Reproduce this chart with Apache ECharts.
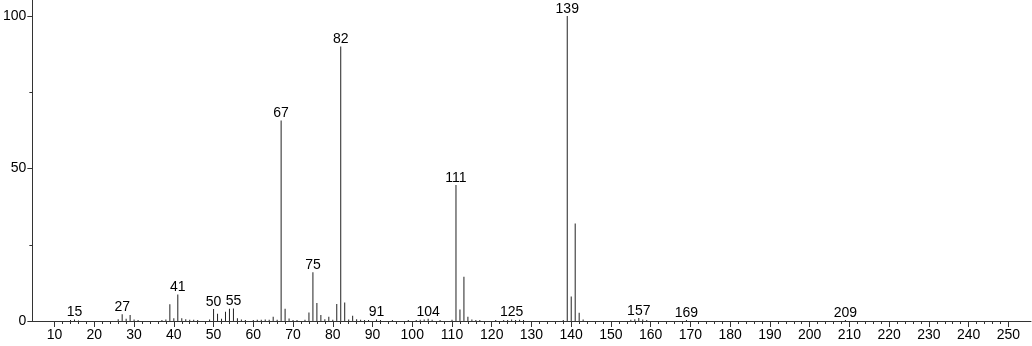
<!DOCTYPE html>
<html>
<head>
<meta charset="utf-8">
<script src="https://cdn.jsdelivr.net/npm/echarts@6/dist/echarts.min.js"></script>
<style>
html,body{margin:0;padding:0;background:#fff;}
#chart{width:1032px;height:346px;}
</style>
</head>
<body>
<div id="chart"></div>
<script>
// m/z values and relative intensities
const mz = [14,15,16,26,27,28,29,30,31,37,38,39,40,41,42,43,44,45,46,49,50,51,52,53,54,55,56,57,58,60,61,62,63,64,65,66,67,68,69,70,71,73,74,75,76,77,78,79,80,81,82,83,84,85,86,87,88,89,91,92,95,99,101,102,103,104,105,107,110,111,112,113,114,115,116,117,121,123,124,125,126,127,128,138,139,140,141,142,143,155,156,157,158,159,169,209];
const intensity = [0.3,0.5,0.2,0.6,2.2,0.7,2.0,0.5,0.3,0.3,0.5,5.5,0.9,8.7,0.9,0.6,0.4,0.4,0.3,0.5,3.9,2.4,0.7,3.0,4.0,4.1,0.9,0.5,0.3,0.3,0.4,0.4,0.5,0.4,1.4,0.4,65.7,4.0,0.8,0.3,0.3,0.4,2.8,16.0,5.9,2.0,0.6,1.4,0.4,5.6,90.0,6.1,0.5,1.7,0.6,0.4,0.3,0.3,0.5,0.3,0.3,0.3,0.3,0.4,0.5,0.7,0.4,0.3,0.4,44.6,3.8,14.5,1.4,0.5,0.3,0.3,0.3,0.3,0.3,0.5,0.3,0.4,0.3,0.3,100,8.0,32.0,2.7,0.5,0.4,0.6,1.0,0.5,0.3,0.3,0.3];
const labeledPeaks = [15,27,41,50,55,67,75,82,91,104,111,125,139,157,169,209];
const xMajorTicks = [10,20,30,40,50,60,70,80,90,100,110,120,130,140,150,160,170,180,190,200,210,220,230,240,250];
const xMinorTicks = [];
for (let v = 12; v < 250; v += 2) if (v % 10 !== 0) xMinorTicks.push(v);
const yMajorTicks = [0,50,100];
const yMinorTicks = [25,75];

const FONT = 'Liberation Sans, Arial, sans-serif';
const AXIS_COLOR = '#333';

const data = mz.map((m, i) => {
  const item = { value: [m, intensity[i]] };
  if (labeledPeaks.indexOf(m) >= 0) {
    item.label = { show: true };
  }
  return item;
});

const chart = echarts.init(document.getElementById('chart'), null, { renderer: 'canvas' });
chart.setOption({
  animation: false,
  backgroundColor: '#fff',
  grid: { left: 30, right: 1, top: 0, bottom: 25, containLabel: false },
  xAxis: [
    {
      type: 'value', min: 4.4, max: 255.7,
      axisLine: { show: true, onZero: false, lineStyle: { color: AXIS_COLOR, width: 1 } },
      axisTick: { show: true, customValues: xMajorTicks, length: 6, lineStyle: { color: AXIS_COLOR } },
      axisLabel: { show: true, customValues: xMajorTicks, margin: 7, color: '#000', fontSize: 14, fontFamily: FONT },
      splitLine: { show: false }
    },
    {
      type: 'value', min: 4.4, max: 255.7, position: 'bottom',
      axisLine: { show: false },
      axisTick: { show: true, customValues: xMinorTicks, length: 3, lineStyle: { color: AXIS_COLOR } },
      axisLabel: { show: false },
      splitLine: { show: false }
    }
  ],
  yAxis: [
    {
      type: 'value', min: 0, max: 105.25, position: 'left',
      axisLine: { show: true, onZero: false, lineStyle: { color: AXIS_COLOR, width: 1 } },
      axisTick: { show: true, customValues: yMajorTicks, length: 5, lineStyle: { color: AXIS_COLOR } },
      axisLabel: { show: true, customValues: yMajorTicks, margin: 6, color: '#000', fontSize: 14, fontFamily: FONT },
      splitLine: { show: false }
    },
    {
      type: 'value', min: 0, max: 105.25, position: 'left',
      axisLine: { show: false },
      axisTick: { show: true, customValues: yMinorTicks, length: 3, lineStyle: { color: AXIS_COLOR } },
      axisLabel: { show: false },
      splitLine: { show: false }
    }
  ],
  series: [{
    type: 'bar',
    xAxisIndex: 0, yAxisIndex: 0,
    barWidth: 1,
    itemStyle: { color: '#222' },
    label: {
      show: false, position: 'top', distance: 0,
      color: '#000', fontSize: 14, fontFamily: FONT,
      formatter: p => String(p.value[0])
    },
    labelLayout: { hideOverlap: false },
    data: data
  }]
});
</script>
</body>
</html>
